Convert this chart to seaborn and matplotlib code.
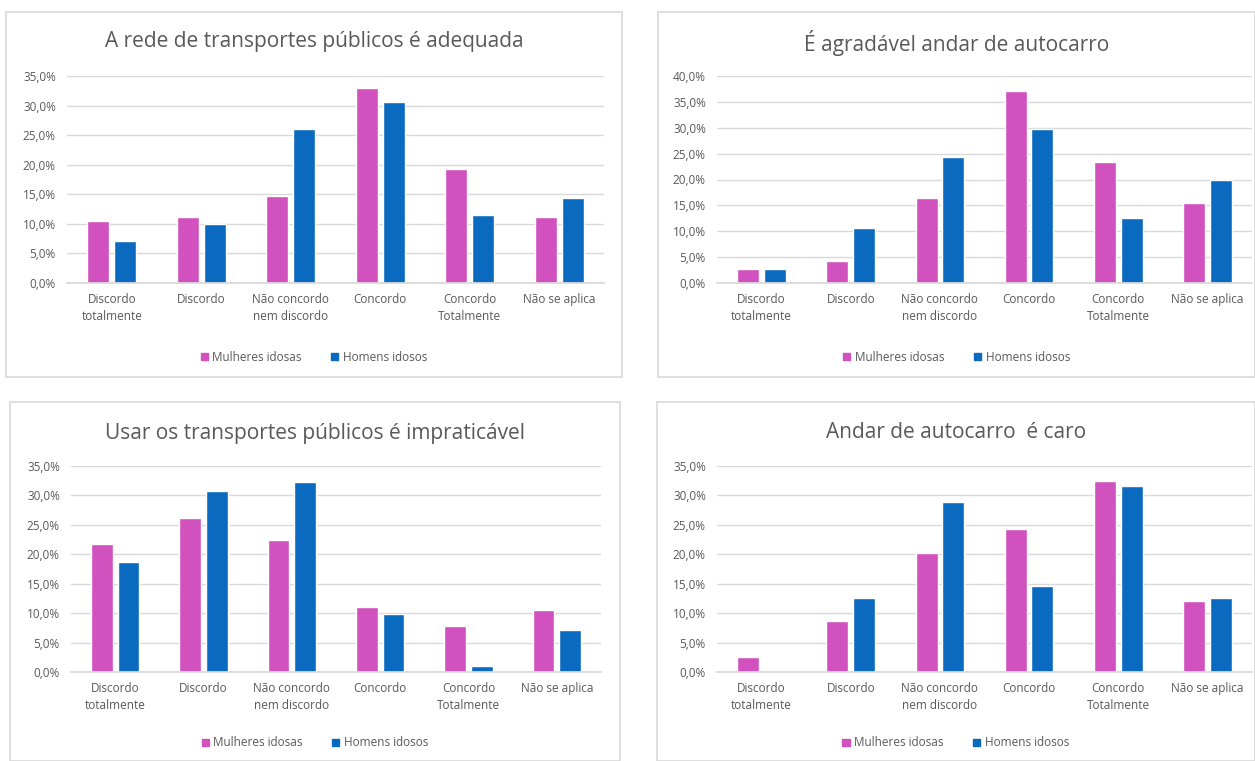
import numpy as np
import pandas as pd
import matplotlib
matplotlib.use("Agg")
import matplotlib.pyplot as plt
import seaborn as sns
from matplotlib.patches import Rectangle, Patch

sns.set_theme(style="white")
plt.rcParams['font.family'] = ['Open Sans', 'DejaVu Sans']

# Data (percent)
categories = ["Discordo\ntotalmente", "Discordo", "Não concordo\nnem discordo",
              "Concordo", "Concordo\nTotalmente", "Não se aplica"]
series = ["Mulheres idosas", "Homens idosos"]

titles = ["A rede de transportes públicos é adequada",
          "É agradável andar de autocarro",
          "Usar os transportes públicos é impraticável",
          "Andar de autocarro  é caro"]

rede_mulheres = [10.4, 11.2, 14.7, 32.9, 19.2, 11.2]
rede_homens = [7.1, 9.9, 26.1, 30.6, 11.5, 14.3]

agradavel_mulheres = [2.8, 4.2, 16.5, 37.1, 23.3, 15.5]
agradavel_homens = [2.8, 10.7, 24.4, 29.7, 12.5, 19.9]

impraticavel_mulheres = [21.8, 26.1, 22.5, 11.1, 7.8, 10.5]
impraticavel_homens = [18.7, 30.7, 32.3, 9.8, 1.1, 7.1]

caro_mulheres = [2.5, 8.7, 20.2, 24.3, 32.4, 12.1]
caro_homens = [0.0, 12.5, 28.8, 14.6, 31.6, 12.5]

y_max = [35, 40, 35, 35]

colors = ["#D152BF", "#0A6AC0"]
text_gray = "#595959"
grid_gray = "#D9D9D9"

W, H = 1255, 761
fig = plt.figure(figsize=(W / 100, H / 100), dpi=100)


def fx(x):
    return x / W


def fy(y):
    return 1 - y / H


# panel layout in pixels: border box, plot box, title y, legend y
layout = [
    dict(box=(6, 12, 622, 377), plot=(67, 76, 604, 283), title=42, legend=357),
    dict(box=(658, 12, 1255, 377), plot=(717, 76, 1252, 283), title=43, legend=357),
    dict(box=(10, 402, 620, 761), plot=(71, 466, 601, 672), title=433, legend=743),
    dict(box=(657, 402, 1255, 761), plot=(717, 466, 1252, 672), title=432, legend=743),
]

panel_data = [
    (rede_mulheres, rede_homens),
    (agradavel_mulheres, agradavel_homens),
    (impraticavel_mulheres, impraticavel_homens),
    (caro_mulheres, caro_homens),
]

for i, (lay, (mulheres, homens)) in enumerate(zip(layout, panel_data)):
    bx0, by0, bx1, by1 = lay["box"]
    fig.patches.append(Rectangle((fx(bx0), fy(by1)), fx(bx1 - bx0), (by1 - by0) / H,
                                 transform=fig.transFigure, facecolor="none",
                                 edgecolor=grid_gray, linewidth=1.2, zorder=-1))

    px0, py0, px1, py1 = lay["plot"]
    ax = fig.add_axes([fx(px0), fy(py1), fx(px1 - px0), (py1 - py0) / H])

    df = pd.DataFrame({
        "categoria": categories * 2,
        "valor": list(mulheres) + list(homens),
        "grupo": [series[0]] * 6 + [series[1]] * 6,
    })
    sns.barplot(data=df, x="categoria", y="valor", hue="grupo", hue_order=series,
                palette=colors, width=0.6, gap=0.18, ax=ax, legend=False,
                saturation=1, errorbar=None)

    ax.set_ylim(0, y_max[i])
    ticks = np.arange(0, y_max[i] + 0.1, 5)
    ax.set_yticks(ticks)
    ax.set_yticklabels([f"{t:.1f}%".replace(".", ",") for t in ticks],
                       fontsize=8.5, color=text_gray)
    ax.yaxis.grid(True, color=grid_gray, linewidth=1)
    ax.set_axisbelow(True)
    ax.tick_params(axis="y", length=0, pad=8)
    ax.tick_params(axis="x", length=0, pad=7)
    ax.set_xticks(range(len(categories)))
    ax.set_xticklabels(categories, fontsize=8.5, color=text_gray, linespacing=1.4)
    ax.set_xlabel("")
    ax.set_ylabel("")
    for s in ["top", "right", "left"]:
        ax.spines[s].set_visible(False)
    ax.spines["bottom"].set_color(grid_gray)
    ax.set_xlim(-0.5, len(categories) - 0.5)
    ax.patch.set_alpha(0)

    cx = (bx0 + bx1) / 2
    fig.text(fx(cx), fy(lay["title"]), titles[i], ha="center", va="center",
             fontsize=15, color=text_gray)

    handles = [Patch(facecolor=c, edgecolor=c) for c in colors]
    fig.legend(handles, series, loc="center", bbox_to_anchor=(fx(cx), fy(lay["legend"])),
               ncol=2, frameon=False, fontsize=8.5, labelcolor=text_gray,
               handlelength=0.6, handleheight=0.6, handletextpad=0.4, columnspacing=2.5)

fig.savefig("out.png", dpi=100)
